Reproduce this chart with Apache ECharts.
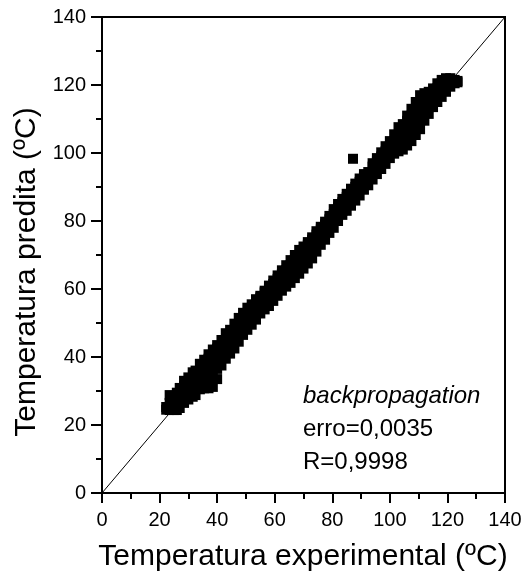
<!DOCTYPE html>
<html>
<head>
<meta charset="utf-8">
<script src="https://cdn.jsdelivr.net/npm/echarts@6/dist/echarts.min.js"></script>
<style>html,body{margin:0;padding:0;background:#fff}#c{width:525px;height:581px}</style>
</head>
<body>
<div id="c"></div>
<script>
// Tick labels
const tickValues = [0, 20, 40, 60, 80, 100, 120, 140];

// Experimental temperatures (x) and, for each, the predicted temperatures (y) read from the cloud
const lowX = [22.3, 23.5, 25, 26, 27, 28.5, 30, 31.5, 32.5, 34, 35.5, 37, 38.5, 40, 41.5, 43, 44.5, 46, 47.5, 49, 50.5];
const lowY = [
  [24.5, 25.3], [24.4, 26.5, 28.8], [24.4, 26.8, 28.5], [24.4, 27, 29.5], [25, 27.5, 30.9],
  [26.5, 29, 31.5, 33], [27.5, 30, 32.5, 34], [28.3, 30.8, 33, 35.5], [28.8, 31.5, 34, 36],
  [30.5, 32.8, 35.5, 38], [30.8, 33, 36, 39.2], [30.8, 33.5, 36.5, 39.5, 40.8],
  [31.2, 34, 37, 40, 42.2], [33.5, 36.5, 39.5, 42.5, 43.5], [37.5, 40, 42.5, 45],
  [39.5, 42, 44.5, 47], [41, 43.5, 46, 48], [42.5, 45, 47.5, 49.8], [44.5, 47, 49.5, 51.5],
  [46.5, 48.5, 51, 53], [48, 50, 52.5, 54.5]
];
const midX = [52, 53.5, 55, 56.5, 58, 59.5, 61, 62.5, 64, 65.5, 67, 68.5, 70, 71.5, 73, 74.5, 76, 77.5, 79, 80.5, 82, 83.5, 85, 86.5, 88];
const midY = [
  [49.5, 52, 54.5, 55.5], [51, 53, 55.5, 57], [52.8, 55, 57.5, 58], [54, 56.5, 59, 59.5],
  [55, 57.5, 60, 61], [56.5, 59, 61.5, 62.5], [58, 60.5, 63, 64], [59.5, 62, 64.5, 65.5],
  [60.7, 63, 65.5, 67], [61.8, 64.5, 67, 68.5], [63.2, 66, 68.5, 70], [64.5, 67.5, 70, 71.5],
  [66, 69, 71.5, 72.5], [67.5, 70.5, 73, 73.8], [69, 72, 74.5, 75.2], [71, 73.5, 76, 77],
  [73, 75.5, 77.5, 78.3], [74.5, 77, 79, 79.8], [76.5, 78.5, 80.5, 81.5], [78, 80, 82, 83.5],
  [80, 81.5, 84, 85], [81.8, 83, 85.5, 86.5], [83, 85, 87, 88], [84.5, 86.5, 88.5, 89.5],
  [86, 88, 90, 91]
];
const highX = [89.5, 91, 92.5, 94, 95.5, 97, 98.5, 100, 101.5, 103, 104.5, 106, 107.5, 109, 110.5, 112, 113.5, 115, 116.5, 118, 119.5, 121, 122.5, 123.5];
const highY = [
  [87.5, 89.5, 91.5, 92.5], [89.2, 91, 93, 93.8], [90.5, 92.5, 94.4], [92.2, 94, 96, 97],
  [93.8, 95.5, 97.5, 98.5], [95.3, 97, 99, 100.2], [96.8, 98.5, 100.5, 102], [98.5, 100, 102, 103.5],
  [99.8, 101.5, 103.5, 105.5], [100.5, 102.5, 105, 107.6], [101, 103.5, 106, 108.5],
  [102.2, 104.5, 107, 109.5, 111], [103.5, 106, 108.5, 111, 113], [105.3, 107.5, 110, 112.5, 115],
  [107, 109.5, 112, 114.5, 117], [109.5, 112, 114.5, 117.6], [111.5, 113.5, 116, 118],
  [113.5, 115.5, 117.5, 119], [115, 117, 119, 120.5], [116.5, 118.5, 120.5, 121.5],
  [118, 120, 121.5, 122], [119.5, 121, 122], [120.5, 121.5], [120.8, 121.2]
];
const outlierX = [87.2];
const outlierY = [[98.3]];

// Ideal line y = x
const idealLine = [[0, 0], [140, 140]];

const annotations = ['backpropagation', 'erro=0,0035', 'R=0,9998'];
const xTitle = 'Temperatura experimental (ºC)';
const yTitle = 'Temperatura predita (ºC)';

function pairs(xs, ys) {
  const out = [];
  xs.forEach((x, i) => ys[i].forEach(y => out.push([x, y])));
  return out;
}
const points = [].concat(pairs(lowX, lowY), pairs(midX, midY), pairs(highX, highY), pairs(outlierX, outlierY));

const FONT = 'Liberation Sans, Arial, Helvetica, sans-serif';
const chart = echarts.init(document.getElementById('c'), null, {renderer: 'canvas'});

function axisCommon(tickLen, margin) {
  return {
    type: 'value', min: 0, max: 140, interval: 20,
    axisLine: {show: true, onZero: false, lineStyle: {color: '#000', width: 2}},
    axisTick: {show: true, inside: false, length: tickLen, lineStyle: {color: '#000', width: 2}},
    minorTick: {show: true, splitNumber: 2, length: 6, lineStyle: {color: '#000', width: 2}},
    axisLabel: {color: '#000', fontSize: 20, fontFamily: FONT, margin: margin,
      formatter: v => tickValues.includes(v) ? String(v) : ''},
    splitLine: {show: false}, minorSplitLine: {show: false}
  };
}

chart.setOption({
  animation: false,
  backgroundColor: '#fff',
  grid: {left: 102, top: 17, right: 20, bottom: 88, show: true, borderColor: '#000', borderWidth: 2, backgroundColor: 'transparent'},
  xAxis: axisCommon(10, 17),
  yAxis: axisCommon(11, 16),
  series: [
    {type: 'line', data: idealLine, symbol: 'none', lineStyle: {color: '#000', width: 1}, silent: true, z: 1},
    {type: 'scatter', data: points, symbol: 'rect', symbolSize: 10, itemStyle: {color: '#000', opacity: 1}, z: 2}
  ],
  graphic: [
    {type: 'text', x: 303, y: 557, style: {text: xTitle, font: '30px ' + FONT, fill: '#000', textAlign: 'center', textVerticalAlign: 'middle'}},
    {type: 'text', x: 27, y: 272, rotation: Math.PI / 2, style: {text: yTitle, font: '30px ' + FONT, fill: '#000', textAlign: 'center', textVerticalAlign: 'middle'}},
    {type: 'text', x: 303, y: 396, style: {text: annotations[0], font: 'italic 24px ' + FONT, fill: '#000', textAlign: 'left', textVerticalAlign: 'middle'}},
    {type: 'text', x: 303, y: 429, style: {text: annotations[1], font: '24px ' + FONT, fill: '#000', textAlign: 'left', textVerticalAlign: 'middle'}},
    {type: 'text', x: 303, y: 462, style: {text: annotations[2], font: '24px ' + FONT, fill: '#000', textAlign: 'left', textVerticalAlign: 'middle'}}
  ]
});
</script>
</body>
</html>
